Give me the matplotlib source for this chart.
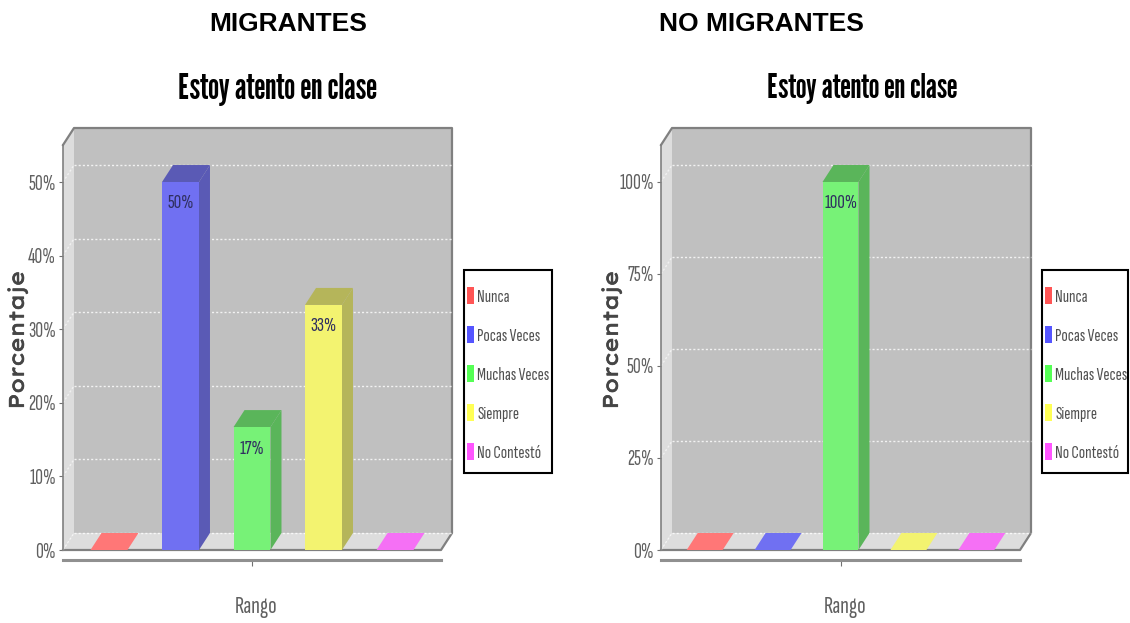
import matplotlib
matplotlib.use("Agg")
import matplotlib.pyplot as plt
import matplotlib.patheffects as pe
from matplotlib.patches import Polygon, Rectangle
from matplotlib.ticker import FixedLocator, FuncFormatter

W, H = 1130, 623
categories = ["Nunca", "Pocas Veces", "Muchas Veces", "Siempre", "No Contestó"]
migrantes = [0, 50, 16.7, 33.3, 0]
no_migrantes = [0, 0, 100, 0, 0]
ticks_m = [0, 10, 20, 30, 40, 50]
ticks_n = [0, 25, 50, 75, 100]
front = ["#FF7777", "#7070F2", "#77F277", "#F3F370", "#F570F5"]
side = ["#B55A5A", "#5A5AB5", "#5AB55A", "#B5B55A", "#B55AB5"]
legend_c = ["#FF5555", "#5555FF", "#55FF55", "#FFFF55", "#FF55FF"]
NARROW = ["Sofia Sans Extra Condensed", "Pathway Gothic One", "Liberation Sans", "DejaVu Sans"]
TITLE = ["League Gothic", "Anton", "Liberation Sans", "DejaVu Sans"]
WIDE = ["Lexend Exa", "Krona One", "Sora", "DejaVu Sans"]

fig = plt.figure(figsize=(W / 100, H / 100), dpi=100, facecolor="white")


def panel(vals, ticks, ymax, x0, x1, bar_w, leg_x, leg_w, head, head_x, title_x, title_fs, ylabel_x, rango_x):
    y0, y1 = 550, 145
    ax = fig.add_axes([x0 / W, 1 - y0 / H, (x1 - x0) / W, (y0 - y1) / H])
    ax.set_xlim(-0.643, 4.643)
    ax.set_ylim(0, ymax)
    ax.patch.set_visible(False)
    dx = 11 / (x1 - x0) * (4.643 + 0.643)
    dy = 17 / (y0 - y1) * ymax
    xl, xr = ax.get_xlim()
    # walls and floor
    ax.add_patch(Polygon([(xl, 0), (xl + dx, dy), (xl + dx, ymax + dy), (xl, ymax)], fc="#DDDDDD", ec="none", clip_on=False, zorder=1))
    ax.add_patch(Rectangle((xl + dx, dy), xr - xl, ymax, fc="#C0C0C0", ec="none", clip_on=False, zorder=1))
    ax.add_patch(Polygon([(xl, 0), (xr, 0), (xr + dx, dy), (xl + dx, dy)], fc="#DDDDDD", ec="none", clip_on=False, zorder=1))
    ax.plot([xl, xl + dx, xr + dx, xr + dx, xr, xl], [ymax, ymax + dy, ymax + dy, dy, 0, 0], color="#808080", lw=1.6, clip_on=False, zorder=2)
    for t in ticks:
        ax.plot([xl + dx, xr + dx], [t + dy, t + dy], color="white", lw=1, ls=(0, (1.5, 1.5)), alpha=0.8, clip_on=False, zorder=2)
        ax.plot([xl, xl + dx], [t, t + dy], color="white", lw=1, ls=(0, (1.5, 1.5)), alpha=0.6, clip_on=False, zorder=2)
    # bars with depth
    for i, v in enumerate(vals):
        l, r = i - bar_w / 2, i + bar_w / 2
        if v > 0:
            ax.add_patch(Polygon([(r, 0), (r + dx, dy), (r + dx, v + dy), (r, v)], fc=side[i], ec="none", clip_on=False, zorder=3))
            ax.add_patch(Polygon([(l, v), (r, v), (r + dx, v + dy), (l + dx, v + dy)], fc=side[i], ec="none", clip_on=False, zorder=3))
            ax.bar(i, v, bar_w, color=front[i], zorder=4, clip_on=False)
            ax.text(i, v - 0.053 * ymax, f"{v:.0f}%", ha="center", va="center", fontsize=15, color="#303060", family=NARROW, zorder=5)
        else:
            ax.add_patch(Polygon([(l, 0), (r, 0), (r + dx, dy), (l + dx, dy)], fc=front[i], ec="none", zorder=3, clip_on=False))
    # axes
    for s in ("top", "right"):
        ax.spines[s].set_visible(False)
    ax.spines["left"].set_color("#808080")
    ax.spines["left"].set_linewidth(1.2)
    ax.spines["bottom"].set_position(("outward", 7.2))
    ax.spines["bottom"].set_color("#909090")
    ax.spines["bottom"].set_linewidth(2.2)
    ax.yaxis.set_major_locator(FixedLocator(ticks))
    ax.yaxis.set_major_formatter(FuncFormatter(lambda v, p: f"{v:.0f}%"))
    ax.xaxis.set_major_locator(FixedLocator([2]))
    ax.set_xticklabels([""])
    ax.tick_params(axis="y", length=3, color="#707070", labelcolor="#606060", labelsize=15.5, pad=2)
    ax.tick_params(axis="x", length=4, color="#707070")
    for t in ax.get_yticklabels():
        t.set_family(NARROW)
    # texts
    fig.text(head_x / W, 1 - 24 / H, head, ha="center", va="center", fontsize=19, fontweight="bold", family="Liberation Sans", color="black")
    fig.text(title_x / W, 1 - 89 / H, "Estoy atento en clase", ha="center", va="center", fontsize=title_fs, family=TITLE, color="black")
    fig.text(ylabel_x / W, 1 - 340 / H, "Porcentaje", rotation=90, ha="center", va="center", fontsize=15, family=WIDE, color="#454545",
             path_effects=[pe.withStroke(linewidth=0.5, foreground="#454545")])
    fig.text(rango_x / W, 1 - 607 / H, "Rango", ha="center", va="center", fontsize=18, family=NARROW, color="#606060")
    # legend
    fig.add_artist(Rectangle((leg_x / W, 1 - 473 / H), leg_w / W, 203 / H, transform=fig.transFigure, fc="none", ec="black", lw=1.5))
    handles = [Rectangle((0, 0), 1, 1, fc=c, ec="none") for c in legend_c]
    leg = ax.legend(handles, categories, loc="center left",
                    bbox_to_anchor=((leg_x + 3) / W, 1 - 374 / H), bbox_transform=fig.transFigure,
                    frameon=False, handlelength=0.38, handleheight=1.0,
                    handletextpad=0.16, labelspacing=1.15, borderpad=0, borderaxespad=0,
                    prop={"family": NARROW, "size": 13.4}, labelcolor="#505050")
    leg.set_zorder(10)


panel(migrantes, ticks_m, 55.03, 63, 441, 0.517, 464, 88, "MIGRANTES", 288.5, 277, 25.5, 18, 256)
panel(no_migrantes, ticks_n, 110.05, 661, 1020, 0.53, 1042, 86, "NO MIGRANTES", 761.5, 862, 24.5, 612, 845)

fig.savefig("out.png", dpi=100)
